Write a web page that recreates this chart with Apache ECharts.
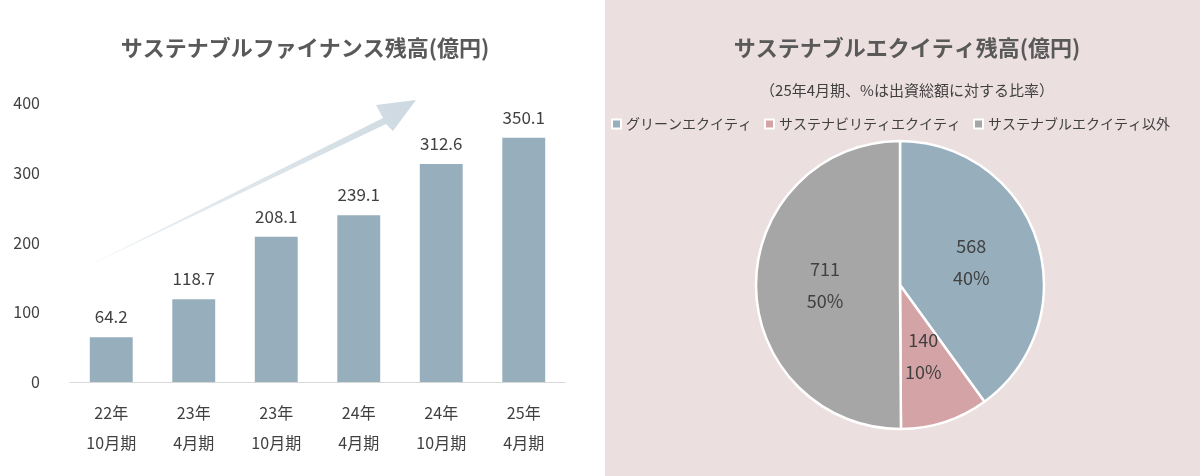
<!DOCTYPE html>
<html>
<head>
<meta charset="utf-8">
<title>サステナブルファイナンス残高</title>
<script src="https://cdn.jsdelivr.net/npm/echarts@6/dist/echarts.min.js"></script>
<style>
  html, body { margin: 0; padding: 0; background: #fff; }
  #main { width: 1200px; height: 476px; }
</style>
</head>
<body>
<div id="main"></div>
<script>
// 棒グラフ
var barCategories = ['22年\n10月期', '23年\n4月期', '23年\n10月期', '24年\n4月期', '24年\n10月期', '25年\n4月期'];
var barValues = [64.2, 118.7, 208.1, 239.1, 312.6, 350.1];
var yTicks = [0, 100, 200, 300, 400];

// 円グラフ
var pieNames = ['グリーンエクイティ', 'サステナビリティエクイティ', 'サステナブルエクイティ以外'];
var pieValues = [568, 140, 711];
var pieColors = ['#97afbd', '#d4a3a6', '#a6a6a6'];

var font = '"Noto Sans CJK JP", "Noto Sans", sans-serif';
var total = pieValues.reduce(function (a, b) { return a + b; }, 0);

var chart = echarts.init(document.getElementById('main'));
chart.setOption({
    textStyle: { fontFamily: font },
    graphic: [
        { type: 'rect', shape: { x: 605, y: 0, width: 595, height: 476 }, style: { fill: '#ecdfe0' }, z: -10 },
        {
            type: 'polygon', z: -5,
            shape: { points: [[88, 266], [383, 118], [376, 105], [416, 100], [393, 131], [386, 124]] },
            style: {
                fill: new echarts.graphic.LinearGradient(0, 1, 1, 0, [
                    { offset: 0, color: 'rgba(215,225,232,0.5)' },
                    { offset: 1, color: '#cdd9e1' }
                ])
            }
        }
    ],
    title: [
        { text: 'サステナブルファイナンス残高(億円)', left: 300, textAlign: 'center', top: 32,
          textStyle: { fontSize: 22, fontWeight: 'bold', color: '#595959', fontFamily: font } },
        { text: 'サステナブルエクイティ残高(億円)', left: 902, textAlign: 'center', top: 32,
          textStyle: { fontSize: 22, fontWeight: 'bold', color: '#595959', fontFamily: font } },
        { text: '（25年4月期、%は出資総額に対する比率）', left: 902, textAlign: 'center', top: 78,
          textStyle: { fontSize: 15, fontWeight: 'normal', color: '#404040', fontFamily: font } }
    ],
    legend: {
        data: pieNames, left: 903, top: 112, left: 'auto', right: 25,
        itemWidth: 9, itemHeight: 9, itemGap: 12, icon: 'rect',
        textStyle: { fontSize: 14, color: '#404040', fontFamily: font }
    },
    grid: { left: 70, right: 635, top: 103, bottom: 94 },
    xAxis: {
        type: 'category', data: barCategories,
        axisLine: { lineStyle: { color: '#d9d9d9' } },
        axisTick: { show: false },
        axisLabel: { color: '#404040', fontSize: 16, lineHeight: 30, margin: 16, fontFamily: font }
    },
    yAxis: {
        type: 'value', min: yTicks[0], max: yTicks[yTicks.length - 1], interval: 100,
        splitLine: { show: false },
        axisLabel: { color: '#404040', fontSize: 16, margin: 30, fontFamily: font }
    },
    series: [
        {
            type: 'bar', data: barValues, barWidth: '52%',
            itemStyle: { color: '#97afbd' },
            label: { show: true, position: 'top', distance: 12, color: '#404040', fontSize: 17, fontFamily: font,
                     formatter: function (p) { return p.value.toFixed(1); } }
        },
        {
            type: 'pie', center: [900, 285], radius: 144, startAngle: 90, clockwise: true,
            data: pieNames.map(function (n, i) {
                return { name: n, value: pieValues[i], itemStyle: { color: pieColors[i] } };
            }),
            itemStyle: { borderColor: '#fff', borderWidth: 2.5 },
            label: {
                show: true, position: 'inner', color: '#404040', fontSize: 18, lineHeight: 32, fontFamily: font,
                formatter: function (p) { return p.value + '\n' + Math.round(p.value / total * 100) + '%'; }
            },
            labelLine: { show: false }
        }
    ]
});
</script>
</body>
</html>
